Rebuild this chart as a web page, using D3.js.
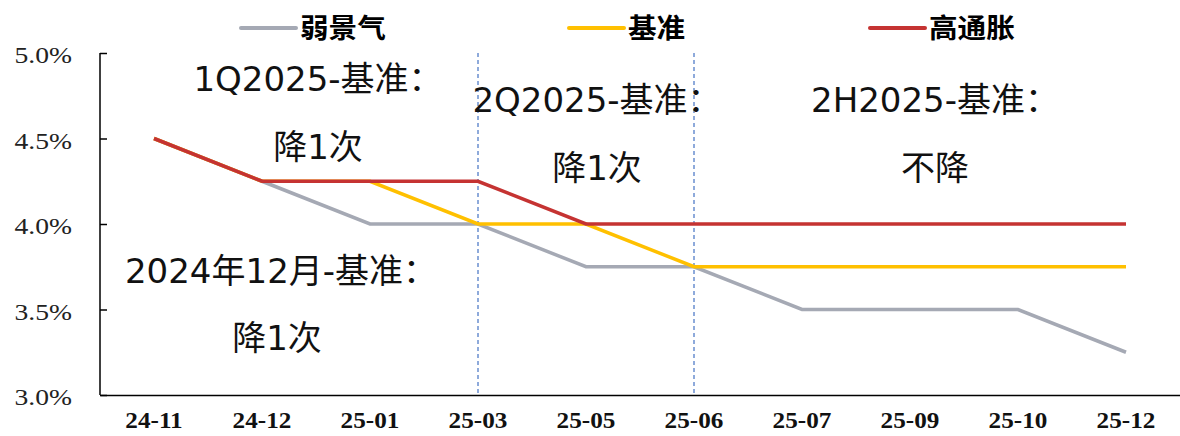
<!DOCTYPE html>
<html>
<head>
<meta charset="utf-8">
<script src="https://cdn.jsdelivr.net/npm/d3@7"></script>
<style>
  body { margin: 0; background: #fff; }
  .ytick text { font-family: "Liberation Serif", serif; font-size: 24px; fill: #222; }
  .xtick text { font-family: "Liberation Serif", serif; font-size: 24px; font-weight: bold; fill: #111; }
  .legend text { font-family: "Noto Sans CJK SC", sans-serif; font-size: 27px; font-weight: bold; fill: #000; }
  .note { font-family: "DejaVu Sans", "Noto Sans CJK SC", sans-serif; font-size: 34px; fill: #111; }
</style>
</head>
<body>
<div id="chart"></div>
<script>
const width = 1180
const height = 436

const months = ["24-11","24-12","25-01","25-03","25-05","25-06","25-07","25-09","25-10","25-12"]
const weak = [4.5, 4.25, 4.0, 4.0, 3.75, 3.75, 3.5, 3.5, 3.5, 3.25]
const base = [4.5, 4.25, 4.25, 4.0, 4.0, 3.75, 3.75, 3.75, 3.75, 3.75]
const high = [4.5, 4.25, 4.25, 4.25, 4.0, 4.0, 4.0, 4.0, 4.0, 4.0]
const yTicks = [3.0, 3.5, 4.0, 4.5, 5.0]
const dividers = ["25-03", "25-06"]

const seriesList = [
    {name: "弱景气", values: weak, color: "#A5A9B4"},
    {name: "基准", values: base, color: "#FFC000"},
    {name: "高通胀", values: high, color: "#C53332"}
]

// text boxes: anchored to a month, shifted from its centre
const notes = [
    {text: "1Q2025-基准：", at: "25-01", dx: -52, v: 4.836},
    {text: "降1次", at: "25-01", dx: -52, v: 4.433},
    {text: "2Q2025-基准：", at: "25-05", dx: 11, v: 4.713},
    {text: "降1次", at: "25-05", dx: 11, v: 4.31},
    {text: "2H2025-基准：", at: "25-09", dx: 25, v: 4.713},
    {text: "不降", at: "25-09", dx: 25, v: 4.31},
    {text: "2024年12月-基准：", at: "24-12", dx: 19, v: 3.708},
    {text: "降1次", at: "24-12", dx: 15, v: 3.316}
]

const svg = d3.select("#chart").append("svg").attr("width", width).attr("height", height)

const x = d3.scaleBand().domain(months).range([100, 1180])
const y = d3.scaleLinear().domain([3.0, 5.0]).range([395, 53])
const cx = d => x(d) + x.bandwidth() / 2

// y axis
const yAxis = d3.axisLeft(y).tickValues(yTicks).tickSize(-7)
    .tickFormat(d => d.toFixed(1) + "%")
const yG = svg.append("g").attr("transform", "translate(100,0)").call(yAxis)
yG.selectAll(".tick").attr("class", "tick ytick")
yG.selectAll("line").attr("stroke", "#000").attr("stroke-width", 1.5)
yG.select(".domain").attr("stroke", "#000").attr("stroke-width", 1.5).attr("d", "M0,53V395")
yG.selectAll("text").attr("x", 0).attr("dy", "0.4em")
    .attr("transform", "translate(-28,0) scale(1.15,1)")

// x axis
const xAxis = d3.axisBottom(x).tickSize(0).tickPadding(16)
const xG = svg.append("g").attr("transform", "translate(0,395)").call(xAxis)
xG.selectAll(".tick").attr("class", "tick xtick")
xG.selectAll(".tick text").attr("transform", "scale(1.05,1)")
xG.select(".domain").attr("stroke", "#000").attr("stroke-width", 1.5)

// dotted dividers
svg.selectAll(".divider").data(dividers).join("line")
    .attr("class", "divider")
    .attr("x1", d => cx(d)).attr("x2", d => cx(d))
    .attr("y1", y(5.0)).attr("y2", y(3.0))
    .attr("stroke", "#4472C4").attr("stroke-width", 1.2)
    .attr("stroke-dasharray", "4,3")

// lines
const line = d3.line().x((d, i) => cx(months[i])).y(d => y(d))
svg.selectAll(".series").data(seriesList).join("path")
    .attr("class", "series")
    .attr("d", d => line(d.values))
    .attr("fill", "none")
    .attr("stroke", d => d.color)
    .attr("stroke-width", 3.5)

// notes
svg.selectAll(".note").data(notes).join("text")
    .attr("class", "note")
    .attr("x", d => cx(d.at) + d.dx)
    .attr("y", d => y(d.v))
    .attr("text-anchor", "middle")
    .attr("dominant-baseline", "middle")
    .text(d => d.text)

// legend
const legendX = [241, 569, 870]
const legend = svg.selectAll(".legend").data(seriesList).join("g")
    .attr("class", "legend")
    .attr("transform", (d, i) => `translate(${legendX[i]},28)`)
legend.append("line")
    .attr("x1", 0).attr("x2", 55)
    .attr("stroke", d => d.color).attr("stroke-width", 4)
    .attr("stroke-linecap", "round")
legend.append("text")
    .attr("dy", "0.36em")
    .attr("transform", "translate(59,0) scale(1.06,1)")
    .text(d => d.name)
</script>
</body>
</html>
